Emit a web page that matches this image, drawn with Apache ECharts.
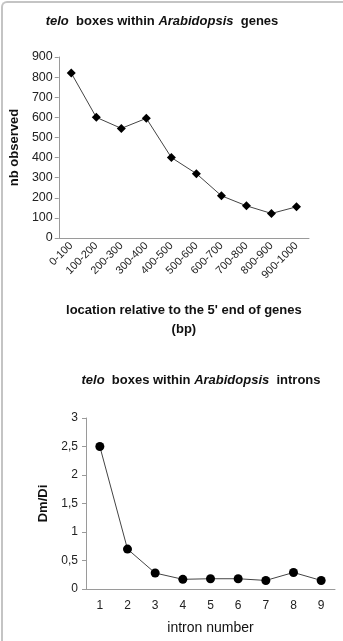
<!DOCTYPE html>
<html>
<head>
<meta charset="utf-8">
<script src="https://cdn.jsdelivr.net/npm/echarts@6/dist/echarts.min.js"></script>
<style>
  html, body { margin: 0; padding: 0; background: #fff; }
  #frame { position: absolute; left: 1px; top: 1px; width: 360px; height: 660px;
           border-left: 2px solid #c4c4c4; border-top: 2px solid #c4c4c4; border-top-left-radius: 6px; }
  #main { position: absolute; left: 0; top: 0; width: 343px; height: 641px; }
</style>
</head>
<body>
<div id="frame"></div>
<div id="main"></div>
<script>
// top panel: telo boxes within genes
const geneBins = ['0-100', '100-200', '200-300', '300-400', '400-500', '500-600', '600-700', '700-800', '800-900', '900-1000']
const geneObserved = [820, 600, 545, 595, 400, 320, 210, 160, 122, 155]

// bottom panel: telo boxes within introns
const intronNumbers = ['1', '2', '3', '4', '5', '6', '7', '8', '9']
const intronRatio = [2.5, 0.7, 0.28, 0.17, 0.18, 0.18, 0.15, 0.29, 0.15]

const font = 'Arial, "Liberation Sans", sans-serif'
const axisGray = '#9a9a9a'

const titleRich = {
  it: { fontStyle: 'italic', fontSize: 13, fontFamily: font, color: '#111' },
  n: { fontSize: 13, fontFamily: font, color: '#111' }
}

let myChart = echarts.init(document.getElementById('main'))

let option = {
  animation: false,
  title: [
    {
      text: '{it|telo}{n|  boxes within }{it|Arabidopsis}{n|  genes}',
      left: 157, top: 10, textAlign: 'center',
      textStyle: { rich: titleRich }
    },
    {
      text: '{it|telo}{n|  boxes within }{it|Arabidopsis}{n|  introns}',
      left: 196, top: 369, textAlign: 'center',
      textStyle: { rich: titleRich }
    }
  ],
  grid: [
    { left: 58, top: 57, width: 251, height: 181 },
    { left: 86, top: 418, width: 249, height: 171 }
  ],
  xAxis: [
    {
      gridIndex: 0,
      type: 'category',
      data: geneBins,
      boundaryGap: true,
      axisLine: { lineStyle: { color: axisGray } },
      axisTick: { interval: 0, length: 4, lineStyle: { color: axisGray } },
      axisLabel: { interval: 0, rotate: 45, fontSize: 11, fontFamily: font, color: '#222', margin: 6 },
      name: "location relative to the 5' end of genes\n(bp)",
      nameLocation: 'middle',
      nameGap: 63,
      nameTextStyle: { fontSize: 13, fontWeight: 'bold', fontFamily: font, color: '#111', lineHeight: 19 }
    },
    {
      gridIndex: 1,
      type: 'category',
      data: intronNumbers,
      boundaryGap: true,
      axisLine: { lineStyle: { color: axisGray } },
      axisTick: { interval: 0, length: 4, lineStyle: { color: axisGray } },
      axisLabel: { interval: 0, fontSize: 12, fontFamily: font, color: '#222', margin: 11 },
      name: 'intron number',
      nameLocation: 'middle',
      nameGap: 32,
      nameTextStyle: { fontSize: 14, fontFamily: font, color: '#111' }
    }
  ],
  yAxis: [
    {
      gridIndex: 0,
      type: 'value',
      min: 0, max: 900, interval: 100,
      splitLine: { show: false },
      axisLine: { show: true, lineStyle: { color: axisGray } },
      axisTick: { show: true, length: 4, lineStyle: { color: axisGray } },
      axisLabel: { fontSize: 12.5, fontFamily: font, color: '#222', margin: 6 },
      name: 'nb observed',
      nameLocation: 'middle',
      nameGap: 35,
      nameTextStyle: { fontSize: 13, fontWeight: 'bold', fontFamily: font, color: '#111' }
    },
    {
      gridIndex: 1,
      type: 'value',
      min: 0, max: 3, interval: 0.5,
      splitLine: { show: false },
      axisLine: { show: true, lineStyle: { color: axisGray } },
      axisTick: { show: true, length: 4, lineStyle: { color: axisGray } },
      axisLabel: {
        fontSize: 12, fontFamily: font, color: '#222', margin: 8,
        formatter: v => String(v).replace('.', ',')
      },
      name: 'Dm/Di',
      nameLocation: 'middle',
      nameGap: 35,
      nameTextStyle: { fontSize: 13, fontWeight: 'bold', fontFamily: font, color: '#111' }
    }
  ],
  series: [
    {
      type: 'line',
      xAxisIndex: 0, yAxisIndex: 0,
      data: geneObserved,
      symbol: 'diamond',
      symbolSize: 9,
      itemStyle: { color: '#000' },
      lineStyle: { color: '#444', width: 1 }
    },
    {
      type: 'line',
      xAxisIndex: 1, yAxisIndex: 1,
      data: intronRatio,
      symbol: 'circle',
      symbolSize: 9,
      itemStyle: { color: '#000' },
      lineStyle: { color: '#444', width: 1 }
    }
  ]
}

myChart.setOption(option)
</script>
</body>
</html>
